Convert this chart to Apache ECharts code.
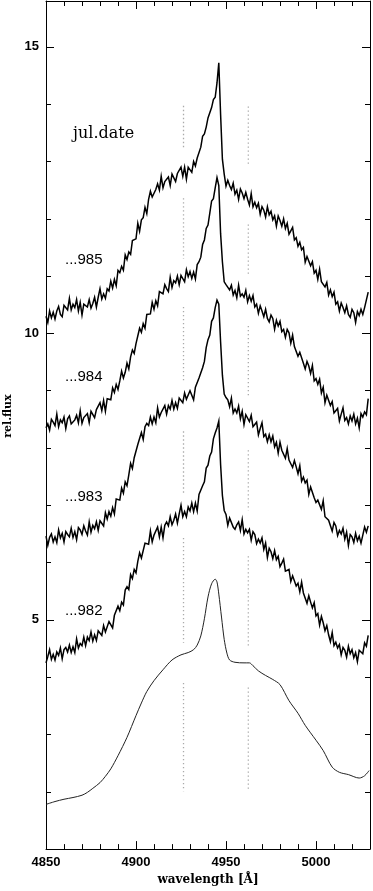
<!DOCTYPE html>
<html><head><meta charset="utf-8">
<script src="https://cdn.jsdelivr.net/npm/echarts@6/dist/echarts.min.js"></script>
<style>html,body{margin:0;padding:0;background:#fff}#c{width:373px;height:891px}</style>
</head><body><div id="c"></div>
<script>
const wavelength = [
4850,4851,4852,4853,4854,4855,4856,4857,4858,4859,
4860,4861,4862,4863,4864,4865,4866,4867,4868,4869,
4870,4871,4872,4873,4874,4875,4876,4877,4878,4879,
4880,4881,4882,4883,4884,4885,4886,4887,4888,4889,
4890,4891,4892,4893,4894,4895,4896,4897,4898,4899,
4900,4901,4902,4903,4904,4905,4906,4907,4908,4909,
4910,4911,4912,4913,4914,4915,4916,4917,4918,4919,
4920,4921,4922,4923,4924,4925,4926,4927,4928,4929,
4930,4931,4932,4933,4934,4935,4936,4937,4938,4939,
4940,4941,4942,4943,4944,4945,4946,4947,4948,4949,
4950,4951,4952,4953,4954,4955,4956,4957,4958,4959,
4960,4961,4962,4963,4964,4965,4966,4967,4968,4969,
4970,4971,4972,4973,4974,4975,4976,4977,4978,4979,
4980,4981,4982,4983,4984,4985,4986,4987,4988,4989,
4990,4991,4992,4993,4994,4995,4996,4997,4998,4999,
5000,5001,5002,5003,5004,5005,5006,5007,5008,5009,
5010,5011,5012,5013,5014,5015,5016,5017,5018,5019,
5020,5021,5022,5023,5024,5025,5026,5027,5028,5029];

const flux985 = [
10.30,10.19,10.39,10.27,10.37,10.25,10.39,10.47,10.33,10.29,
10.49,10.47,10.41,10.61,10.41,10.51,10.45,10.59,10.39,10.54,
10.32,10.51,10.54,10.46,10.59,10.44,10.52,10.63,10.46,10.63,
10.78,10.60,10.69,10.61,10.78,10.74,10.91,10.79,10.94,10.83,
11.10,11.06,11.17,11.10,11.37,11.29,11.42,11.38,11.62,11.64,
11.65,11.92,11.78,11.98,12.02,12.20,12.09,12.34,12.48,12.38,
12.38,12.51,12.61,12.50,12.74,12.54,12.65,12.63,12.73,12.58,
12.78,12.77,12.65,12.79,12.76,12.90,12.74,12.90,12.69,12.90,
12.89,12.81,13.00,12.92,13.06,13.03,13.25,13.44,13.48,13.60,
13.76,13.77,13.94,14.08,14.12,14.37,14.72,13.82,13.04,12.78,
12.57,12.67,12.58,12.51,12.62,12.43,12.50,12.34,12.52,12.45,
12.35,12.46,12.34,12.24,12.44,12.21,12.29,12.19,12.27,12.08,
12.21,12.15,12.03,12.21,12.07,12.13,11.98,12.05,11.87,12.05,
11.97,11.87,12.00,11.83,11.92,11.73,11.79,11.85,11.63,11.67,
11.52,11.59,11.46,11.50,11.24,11.34,11.32,11.18,11.25,11.05,
11.10,10.94,11.12,10.90,10.91,10.81,10.89,10.67,10.76,10.64,
10.72,10.51,10.55,10.39,10.53,10.45,10.36,10.48,10.33,10.28,
10.42,10.36,10.19,10.38,10.31,10.42,10.33,10.45,10.44,10.72];

const flux984 = [
8.35,8.42,8.31,8.50,8.45,8.39,8.59,8.37,8.49,8.44,
8.54,8.34,8.51,8.56,8.42,8.39,8.49,8.57,8.44,8.65,
8.43,8.53,8.50,8.60,8.44,8.64,8.63,8.53,8.67,8.65,
8.79,8.65,8.83,8.64,8.86,8.88,8.84,9.05,8.97,9.11,
9.02,9.17,9.34,9.22,9.32,9.48,9.38,9.59,9.71,9.65,
9.82,9.80,10.09,10.02,10.17,10.09,10.33,10.33,10.34,10.54,
10.42,10.57,10.48,10.73,10.72,10.69,10.85,10.78,10.73,10.98,
10.80,10.92,10.88,11.00,10.85,11.01,10.99,10.90,11.11,10.99,
11.08,10.96,11.07,10.95,11.20,11.25,11.33,11.55,11.63,11.83,
11.89,12.10,12.31,12.35,12.54,12.72,12.58,11.74,11.25,10.90,
10.85,10.87,10.76,10.84,10.67,10.75,10.62,10.84,10.65,10.69,
10.63,10.75,10.55,10.66,10.56,10.66,10.46,10.51,10.35,10.48,
10.39,10.29,10.42,10.26,10.20,10.32,10.26,10.07,10.23,10.13,
10.21,10.03,10.07,9.93,10.07,10.01,9.83,9.97,9.77,9.80,
9.60,9.67,9.69,9.48,9.38,9.51,9.43,9.30,9.44,9.17,
9.21,9.11,9.20,8.96,9.06,8.79,8.92,8.89,8.74,8.81,
8.61,8.63,8.69,8.47,8.59,8.70,8.48,8.53,8.42,8.56,
8.47,8.59,8.42,8.52,8.35,8.60,8.54,8.63,8.58,8.86];

const flux983 = [
6.46,6.30,6.44,6.50,6.36,6.45,6.35,6.57,6.43,6.51,
6.36,6.54,6.49,6.45,6.60,6.44,6.54,6.40,6.61,6.57,
6.49,6.64,6.55,6.48,6.71,6.53,6.65,6.59,6.71,6.56,
6.73,6.72,6.64,6.87,6.76,6.89,6.81,6.96,6.85,7.11,
7.11,7.09,7.30,7.21,7.41,7.34,7.53,7.73,7.64,7.83,
7.83,8.06,8.09,8.27,8.15,8.37,8.43,8.39,8.54,8.42,
8.54,8.44,8.70,8.54,8.62,8.59,8.74,8.59,8.74,8.68,
8.83,8.68,8.79,8.69,8.87,8.84,8.79,8.96,8.85,8.83,
9.00,8.98,8.84,9.06,9.04,9.22,9.20,9.40,9.51,9.75,
9.89,9.97,10.21,10.27,10.45,10.58,10.51,9.85,9.27,8.94,
8.88,8.84,8.72,8.87,8.61,8.68,8.61,8.73,8.51,8.64,
8.41,8.58,8.58,8.46,8.57,8.37,8.39,8.45,8.23,8.34,
8.44,8.20,8.24,8.11,8.23,8.11,8.21,8.02,8.10,7.91,
8.10,7.96,7.99,7.82,7.99,7.79,7.82,7.66,7.78,7.67,
7.55,7.69,7.42,7.49,7.39,7.44,7.19,7.32,7.32,7.13,
7.05,7.09,7.12,6.93,7.08,6.80,6.83,6.74,6.77,6.55,
6.70,6.64,6.47,6.56,6.50,6.60,6.41,6.53,6.30,6.49,
6.45,6.35,6.51,6.38,6.46,6.34,6.48,6.62,6.53,6.64];

const flux982 = [
4.25,4.36,4.48,4.31,4.40,4.30,4.44,4.38,4.51,4.32,
4.48,4.52,4.44,4.56,4.43,4.53,4.43,4.67,4.51,4.59,
4.55,4.70,4.55,4.70,4.64,4.79,4.63,4.74,4.64,4.81,
4.78,4.73,4.90,4.79,4.77,4.97,4.97,4.86,5.08,5.07,
5.24,5.16,5.31,5.26,5.52,5.58,5.53,5.79,5.72,5.88,
5.82,6.02,6.17,6.08,6.09,6.34,6.35,6.32,6.55,6.36,
6.48,6.45,6.62,6.45,6.62,6.43,6.65,6.71,6.64,6.80,
6.66,6.74,6.85,6.69,6.85,7.00,6.80,6.89,6.80,6.97,
6.90,7.04,6.89,7.04,6.90,7.19,7.17,7.34,7.41,7.65,
7.70,7.86,7.93,8.16,8.26,8.35,8.47,7.71,7.17,6.91,
6.84,6.65,6.78,6.80,6.62,6.58,6.66,6.71,6.56,6.75,
6.50,6.58,6.52,6.58,6.39,6.54,6.49,6.33,6.41,6.34,
6.43,6.23,6.34,6.09,6.25,6.19,6.07,6.21,6.05,6.11,
5.93,5.99,6.06,5.85,5.83,5.88,5.67,5.77,5.78,5.59,
5.64,5.49,5.66,5.47,5.50,5.29,5.42,5.31,5.21,5.30,
5.07,5.11,4.91,5.06,4.95,4.81,4.90,4.74,4.62,4.78,
4.55,4.61,4.51,4.57,4.39,4.52,4.47,4.35,4.54,4.41,
4.48,4.34,4.43,4.27,4.47,4.45,4.41,4.60,4.54,4.73];

const avgWl = [4850,4855,4860,4865,4870,4873,4876,4880,4883,4886,4890,4895,4900,4903,4906,4910,4915,4920,4925,4929,4932,4934,4936,4938,4940,4942,4944,4945,4946,4947.5,4949,4950.5,4952,4955,4960,4963,4965,4968,4972,4976,4980,4985,4990,4994,5000,5004,5009,5013,5018,5024,5027,5029.5];
const avgFlux = [1.78,1.83,1.87,1.90,1.94,1.99,2.06,2.16,2.27,2.40,2.63,2.95,3.33,3.55,3.75,3.94,4.13,4.30,4.39,4.43,4.48,4.56,4.72,5.02,5.40,5.63,5.71,5.66,5.45,5.05,4.66,4.42,4.30,4.26,4.25,4.25,4.20,4.11,4.03,3.96,3.87,3.59,3.37,3.16,2.90,2.72,2.43,2.34,2.30,2.24,2.28,2.37];

const dotWl = [4926.4, 4962.4];
const dotLeft = [[13.97,13.21],[12.36,11.30],[10.46,9.16],[8.29,7.21],[6.43,4.60],[3.90,2.01]];
const dotRight = [[13.96,12.91],[11.90,11.00],[10.13,8.91],[7.96,6.91],[6.11,4.51],[3.82,2.01]];

const xMajorTicks = [4850,4900,4950,5000];
const xMinorTicks = [4860,4870,4880,4890,4910,4920,4930,4940,4960,4970,4980,4990,5010,5020];
const yMajorTicks = [5,10,15];
const yMinorTicks = [2,3,4,6,7,8,9,11,12,13,14];
const dateLabels = ['...985','...984','...983','...982'];

const chart = echarts.init(document.getElementById('c'), null, {renderer:'canvas'});
const BLACK = '#000';
function xAx(pos, ticks, len, labels, lineShow){
  return {type:'value', min:4850, max:5030, position:pos,
    axisLine:{show:lineShow, onZero:false, lineStyle:{color:BLACK, width:1}},
    axisTick:{show:true, inside:true, length:len, customValues:ticks, lineStyle:{color:BLACK, width:1}},
    axisLabel:{show:labels, customValues:ticks, color:BLACK, fontSize:13, fontWeight:'bold', fontFamily:'Liberation Sans', margin:7,
      formatter:(v)=>String(v)},
    splitLine:{show:false}};
}
function yAx(pos, ticks, len, labels, lineShow){
  return {type:'value', min:1, max:15.8, position:pos,
    axisLine:{show:lineShow, onZero:false, lineStyle:{color:BLACK, width:1}},
    axisTick:{show:true, inside:true, length:len, customValues:ticks, lineStyle:{color:BLACK, width:1}},
    axisLabel:{show:labels, customValues:ticks, color:BLACK, fontSize:13, fontWeight:'bold', fontFamily:'Liberation Sans', margin:7,
      formatter:(v)=>String(v)},
    splitLine:{show:false}};
}
const xAxes = [xAx('bottom', xMajorTicks, 8, true, true), xAx('bottom', xMinorTicks, 5, false, false),
               xAx('top', xMajorTicks, 8, false, true), xAx('top', xMinorTicks, 5, false, false)];
xAxes[0].name = 'wavelength [Å]';
xAxes[0].nameLocation = 'middle';
xAxes[0].nameGap = 23;
xAxes[0].nameTextStyle = {color:BLACK, fontSize:12, fontWeight:'bold', fontFamily:'DejaVu Serif'};
const yAxes = [yAx('left', yMajorTicks, 8, true, true), yAx('left', yMinorTicks, 5, false, false),
               yAx('right', yMajorTicks, 8, false, true), yAx('right', yMinorTicks, 5, false, false)];

function spec(arr){
  return {type:'line', xAxisIndex:0, yAxisIndex:0, data: wavelength.map((w,i)=>[w, arr[i]]),
    symbol:'none', silent:true, lineStyle:{color:BLACK, width:1.5, join:'miter'}, z:3};
}
const series = [spec(flux985), spec(flux984), spec(flux983), spec(flux982),
  {type:'line', data: avgWl.map((w,i)=>[w, avgFlux[i]]), symbol:'none', smooth:0.3, silent:true,
   lineStyle:{color:'#222', width:1}, z:3}];
[dotLeft, dotRight].forEach((segs, k)=>{
  segs.forEach(s=>{
    series.push({type:'line', data:[[dotWl[k], s[0]],[dotWl[k], s[1]]], symbol:'none', silent:true,
      lineStyle:{color:'#aaa', width:1.3, type:[1.3,2.7]}, z:2});
  });
});

const labelY = [260, 377, 497, 611];
const graphic = [
  {type:'text', x:73, y:134, style:{text:'jul.date', font:'16px "DejaVu Serif"', fill:BLACK, align:'left', verticalAlign:'middle'}},
  {type:'text', x:8, y:416, rotation:Math.PI/2, style:{text:'rel.flux', font:'bold 11px "DejaVu Serif"', fill:BLACK, align:'center', verticalAlign:'middle'}}
];
dateLabels.forEach((t,i)=>{
  graphic.push({type:'text', x:65, y:labelY[i], style:{text:t, font:'15px "Liberation Sans"', fill:BLACK, align:'left', verticalAlign:'middle'}});
});

chart.setOption({
  animation:false,
  backgroundColor:'#fff',
  grid:{left:46, right:3, top:1, bottom:39, containLabel:false},
  xAxis:xAxes, yAxis:yAxes, series:series, graphic:graphic
});
</script>
</body></html>
